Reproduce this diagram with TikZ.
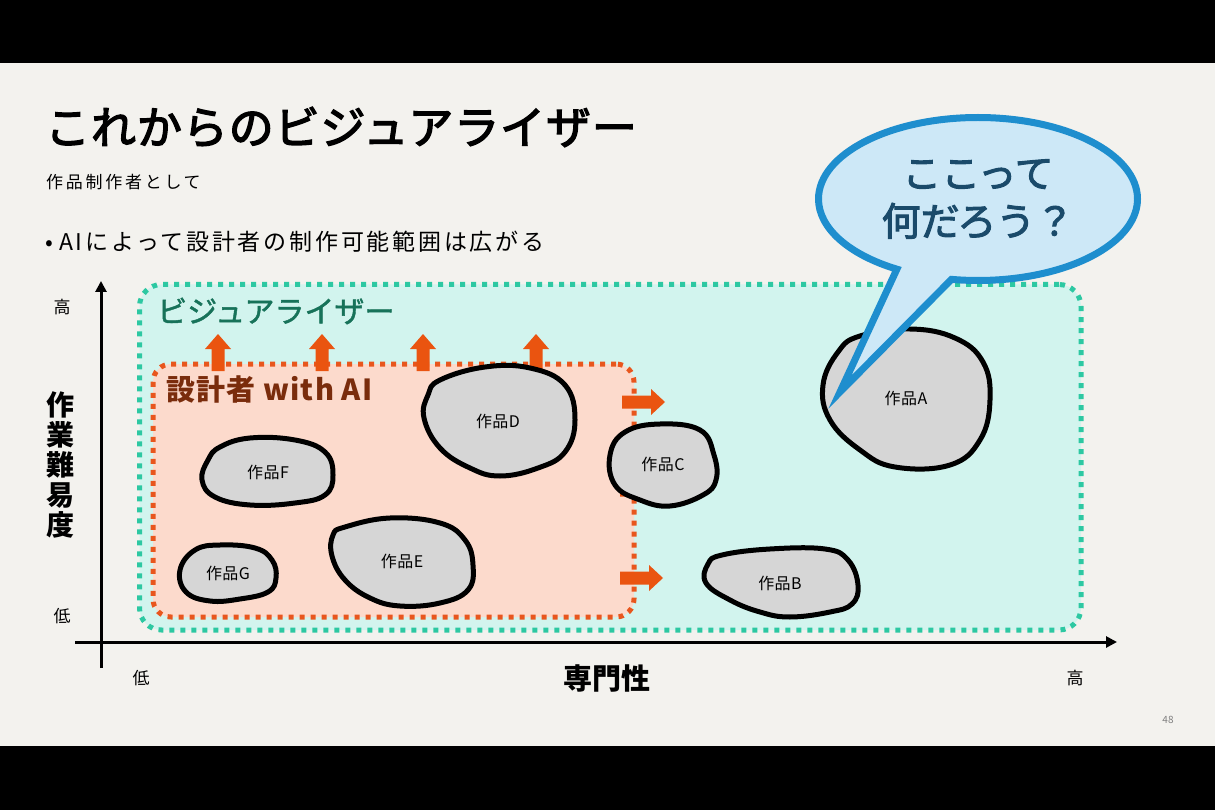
\documentclass[tikz,border=0pt]{standalone}
\usepackage{fontspec}
\setmainfont{Noto Sans CJK JP}
\usetikzlibrary{arrows.meta,shapes.callouts,shapes.geometric}
\definecolor{slidebg}{HTML}{F3F2EE}
\definecolor{greenfill}{HTML}{D2F4EE}
\definecolor{greendot}{HTML}{2DC8A2}
\definecolor{orangefill}{HTML}{FCDACC}
\definecolor{orangedot}{HTML}{E8561D}
\definecolor{arrorange}{HTML}{EA5410}
\definecolor{greentext}{HTML}{177259}
\definecolor{browntext}{HTML}{7A2C0C}
\definecolor{bubblefill}{HTML}{CDE8F7}
\definecolor{bubblestroke}{HTML}{1E8ECE}
\definecolor{bubbletext}{HTML}{1A4A6A}
\definecolor{blobfill}{HTML}{D6D6D6}
\newfontfamily\titlefont{Noto Sans CJK JP}[LetterSpace=2,FakeBold=3]
\newfontfamily\bubblefont{Noto Sans CJK JP}[FakeBold=2.5]
\newfontfamily\visfont{Noto Sans CJK JP}[FakeBold=1.5]
\newcommand\fsz[1]{\fontsize{#1}{#1}\selectfont}
\newcommand\spaced[1]{\addfontfeatures{LetterSpace=#1}}
\tikzset{
  region/.style={line width=5pt, dash pattern=on 5pt off 6pt, inner sep=0},
  greenregion/.style={region, draw=greendot, fill=greenfill, rounded corners=22pt},
  orangeregion/.style={region, draw=orangedot, fill=orangefill, rounded corners=18pt},
  blob/.style={draw=black, line width=5pt, fill=blobfill, line join=round},
  bloblabel/.style={font=\fsz{16}\spaced{3}, inner sep=0},
  axis/.style={line width=3pt, -{Triangle[length=11pt,width=11pt]}},
  ticklabel/.style={font=\fsz{17}, inner sep=0},
  uparr/.pic={\fill[arrorange] (-6.5,0) -- (-6.5,-22) -- (-13,-22) -- (0,-37) -- (13,-22) -- (6.5,-22) -- (6.5,0) -- cycle;},
  rightarr/.pic={\fill[arrorange] (0,-6.5) -- (29,-6.5) -- (29,-13) -- (43,0) -- (29,13) -- (29,6.5) -- (0,6.5) -- cycle;}
}
\begin{document}
\begin{tikzpicture}[x=1pt,y=-1pt]
\useasboundingbox (0,0) rectangle (1215,810);
\fill[slidebg] (0,0) rectangle (1215,810);
\fill[black] (0,0) rectangle (1215,63);
\fill[black] (0,746) rectangle (1215,810);

% texts
\node[anchor=west, inner sep=0, font=\titlefont\fsz{45}] (title) at (45,127) {これからのビジュアライザー};
\node[anchor=west, inner sep=0, font=\fsz{17}\spaced{16}] (sub) at (46,182) {作品制作者として};
\node[anchor=west, inner sep=0, font=\fsz{23}\spaced{12}] (bullet) at (45,242) {•\hspace{6pt}AIによって設計者の制作可能範囲は広がる};

% regions
\node[greenregion, minimum width=941.5pt, minimum height=345.5pt] (vis) at (610.25,457.25) {};
\node[orangeregion, minimum width=481pt, minimum height=253pt] (des) at (393.5,490.5) {};
\node[anchor=west, inner sep=0, font=\visfont\fsz{30}, text=greentext] (vislab) at (157,311) {ビジュアライザー};
\node[anchor=west, inner sep=0, font=\fsz{29}\bfseries\spaced{4}, text=browntext] (deslab) at (166,389) {設計者 with AI};

% expansion arrows
\pic at (218,371) {uparr};
\pic at (322,371) {uparr};
\pic at (423,371) {uparr};
\pic at (536,371) {uparr};
\pic at (622,402) {rightarr};
\pic at (620,490) {rightarr};
\pic at (620,578) {rightarr};

% works
\draw[blob] plot[smooth cycle, tension=0.7] coordinates {(860,336) (910,329) (955,338) (983,362) (990,400) (980,440) (950,465) (895,467) (860,450) (830,420) (823,385) (838,352)};
\node[bloblabel] (wA) at (906,398) {作品A};
\draw[blob] plot[smooth cycle, tension=0.7] coordinates {(722,555) (770,549) (825,549) (848,560) (858,585) (852,604) (830,612) (790,617) (760,612) (730,600) (706,583) (708,564)};
\node[bloblabel] (wB) at (780,583) {作品B};
\draw[blob] plot[smooth cycle, tension=0.7] coordinates {(625,432) (660,424) (700,430) (714,455) (716,480) (703,495) (670,506) (640,500) (615,485) (610,455)};
\node[bloblabel] (wC) at (663,464) {作品C};
\draw[blob] plot[smooth cycle, tension=0.7] coordinates {(440,380) (485,367) (530,368) (565,385) (575,420) (565,452) (538,468) (500,476) (470,468) (440,448) (424,418) (428,395)};
\node[bloblabel] (wD) at (498,421) {作品D};
\draw[blob] plot[smooth cycle, tension=0.7] coordinates {(345,527) (390,518) (440,523) (465,540) (473,565) (468,590) (440,603) (400,606) (370,598) (345,580) (332,556) (333,535)};
\node[bloblabel] (wE) at (402,561) {作品E};
\draw[blob] plot[smooth cycle, tension=0.7] coordinates {(220,447) (250,438) (295,440) (325,452) (333,475) (325,495) (295,503) (250,505) (215,497) (202,480) (208,460)};
\node[bloblabel] (wF) at (268,472) {作品F};
\draw[blob] plot[smooth cycle, tension=0.7] coordinates {(195,550) (220,545) (255,548) (272,560) (276,578) (268,592) (240,599) (210,601) (186,592) (180,570)};
\node[bloblabel] (wG) at (228,573) {作品G};

% bubble
\node[ellipse callout, draw=bubblestroke, line width=7pt, fill=bubblefill,
      minimum width=319pt, minimum height=163pt, inner sep=0,
      callout absolute pointer={(840,392)}, callout pointer arc=21,
      font=\bubblefont\fontsize{39}{48}\selectfont, text=bubbletext, align=center] (bubble) at (978,199) {ここって\\何だろう？};

% axes
\coordinate (yB) at (101,668);
\coordinate (yT) at (101,281);
\coordinate (xL) at (75,642);
\coordinate (xR) at (1117,642);
\draw[axis] (yB) -- (yT);
\draw[axis] (xL) -- (xR);
\node[ticklabel] (yhi) at (62,307) {高};
\node[ticklabel] (ylo) at (62,616) {低};
\node[font=\fontsize{28}{30}\selectfont\bfseries, align=center, inner sep=0] (ylab) at (60,465) {作\\業\\難\\易\\度};
\node[ticklabel] (xlo) at (141,678) {低};
\node[ticklabel] (xhi) at (1075,678) {高};
\node[font=\fsz{29}\bfseries, inner sep=0] (xlab) at (607,678) {専門性};
\node[font=\fsz{10}, text=gray, inner sep=0] (page) at (1168,720) {48};
\end{tikzpicture}
\end{document}
